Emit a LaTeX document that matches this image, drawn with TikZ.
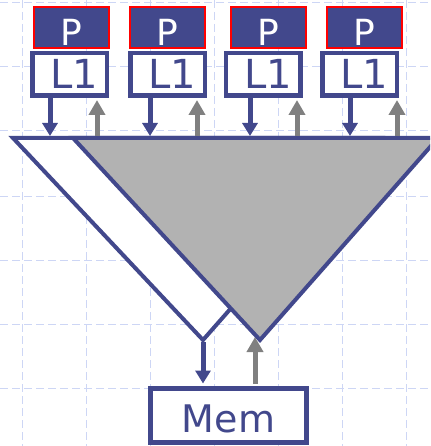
\documentclass[tikz,border=0pt]{standalone}
\usepackage{fontspec}
\setmainfont{DejaVu Sans}
\usetikzlibrary{arrows.meta}
\definecolor{navy}{RGB}{66,72,140}
\definecolor{gridc}{RGB}{205,214,245}
\definecolor{arrgray}{RGB}{128,128,128}
\definecolor{fillgray}{RGB}{178,178,178}
\begin{document}
\begin{tikzpicture}[x=1pt,y=-1pt,
  gridline/.style={draw=gridc, line width=1pt, dash pattern=on 8pt off 4pt},
  pbox/.style={draw=red, line width=2pt, fill=navy, text=white, minimum width=75pt,
    inner sep=0pt, text height=39pt, text depth=2pt, font=\fontsize{36}{36}\selectfont},
  cbox/.style={draw=navy, line width=4.5pt, fill=white, text=navy, minimum width=74.5pt,
    inner sep=0pt, text height=35.75pt, text depth=6.75pt, font=\fontsize{40}{40}\selectfont},
  membox/.style={draw=navy, line width=5pt, fill=white, text=navy, minimum width=156pt,
    inner sep=0pt, text height=43.5pt, text depth=10.5pt, font=\fontsize{38}{38}\selectfont},
  tri/.style={draw=navy, line width=4pt},
  downarr/.style={draw=navy, line width=5pt, -{Triangle[width=15pt,length=13pt]}},
  uparr/.style={draw=arrgray, line width=5pt, -{Triangle[width=16pt,length=15pt]}}
]
\useasboundingbox (0,0) rectangle (430,446);
\clip (0,0) rectangle (430,446);
% background grid
\foreach \gx in {22,86,150,214,278,342,406} \draw[gridline] (\gx,0) -- (\gx,446);
\foreach \gy in {3,67,131,196,260,324,388} \draw[gridline] (0,\gy) -- (430,\gy);

% processors
\node[pbox] (p1) at (71.5,27.5) {P};
\node[pbox] (p2) at (167,27.5) {P};
\node[pbox] (p3) at (268.5,27.5) {P};
\node[pbox] (p4) at (364.5,27.5) {P};

% L1 caches
\node[cbox] (c1) at (69.5,74.5) {\hspace{10pt}L1};
\node[cbox] (c2) at (167.5,74.5) {\hspace{10pt}L1};
\node[cbox] (c3) at (263,74.5) {\hspace{10pt}L1};
\node[cbox] (c4) at (359.5,74.5) {\hspace{10pt}L1};

% network triangles
\coordinate (wl) at (13,138);
\coordinate (wr) at (381,138);
\coordinate (wb) at (203,340);
\coordinate (gl) at (73,138);
\coordinate (gr) at (438,138);
\coordinate (gb) at (260,340);
\coordinate (top) at (0,136);
\draw[tri, fill=white] (wl) -- (wr) -- (wb) -- cycle;
\draw[tri, fill=fillgray] (gl) -- (gr) -- (gb) -- cycle;

% memory
\node[membox] (mem) at (228.5,415.5) {Mem};

% cache <-> network arrows
\foreach \i/\dx/\ux in {1/50/97, 2/150/197, 3/250/297, 4/350/397} {
  \draw[downarr] (c\i.south -| \dx,0) -- (top -| \dx,0);
  \draw[uparr, shorten >=2pt] (top -| \ux,0) -- (c\i.south -| \ux,0);
}

% network <-> memory arrows
\draw[downarr, shorten >=2.5pt] ([yshift=-2pt]wb) -- (mem.north -| wb);
\draw[uparr, shorten <=2.5pt, shorten >=-3pt] (mem.north -| 255,0) -- (gb -| 255,0);
\end{tikzpicture}
\end{document}
